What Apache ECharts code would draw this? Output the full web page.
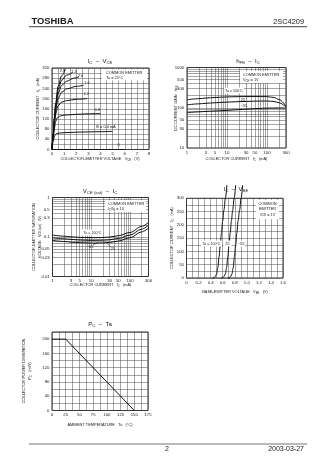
<!DOCTYPE html>
<html>
<head>
<meta charset="utf-8">
<script src="https://cdn.jsdelivr.net/npm/echarts@6/dist/echarts.min.js"></script>
<style>
  html, body { margin: 0; padding: 0; background: #fff; }
  #page { width: 336px; height: 475px; }
</style>
</head>
<body>
<div id="page"></div>
<script>
// ---------- IC – VCE (Ta = 25 °C), one curve per base current [VCE (V), IC (mA)] ----------
const ibLabels = ['0', '0.4', '0.8', '1.2', '1.6', '2.0', '2.4', '2.8'];
const icVceIb0  = [[0, 0], [6, 0]];
const icVceIb04 = [[0, 0], [0.1, 32], [0.2, 52], [0.3, 60], [0.5, 64], [1, 66], [2, 68], [3, 69], [4, 70], [5, 71]];
const icVceIb08 = [[0, 0], [0.1, 45], [0.2, 85], [0.3, 110], [0.45, 126], [0.7, 132], [1, 135], [2, 138], [3, 140], [4, 141]];
const icVceIb12 = [[0, 0], [0.1, 52], [0.2, 100], [0.3, 140], [0.5, 172], [0.8, 186], [1.2, 192], [2, 197], [2.9, 200]];
const icVceIb16 = [[0, 0], [0.1, 56], [0.2, 110], [0.3, 155], [0.5, 200], [0.8, 225], [1.2, 238], [2, 248], [2.6, 252]];
const icVceIb20 = [[0, 0], [0.1, 58], [0.2, 116], [0.3, 166], [0.5, 220], [0.8, 252], [1.2, 268], [1.8, 280], [2.2, 285]];
const icVceIb24 = [[0, 0], [0.1, 60], [0.2, 122], [0.3, 175], [0.5, 236], [0.8, 272], [1.2, 292], [1.7, 302]];
const icVceIb28 = [[0, 0], [0.1, 62], [0.2, 126], [0.3, 182], [0.5, 248], [0.8, 290], [1.1, 315]];

// ---------- hFE – IC (VCE = 1 V) [IC (mA), hFE] ----------
const hfeTa100 = [[1, 158], [2, 168], [3, 174], [5, 180], [10, 186], [20, 189], [50, 190], [100, 189], [150, 180], [200, 160], [300, 108]];
const hfeTa25  = [[1, 118], [2, 125], [3, 129], [5, 133], [10, 138], [20, 142], [50, 146], [100, 147], [150, 143], [200, 133], [300, 104]];
const hfeTaM55 = [[1, 75], [2, 79], [3, 81], [5, 83], [10, 86], [20, 90], [50, 95], [100, 98], [200, 99], [300, 98]];

// ---------- VCE(sat) – IC (IC/IB = 10) [IC (mA), VCE(sat) (V)] ----------
const vsatTa100 = [[1, 0.112], [2, 0.105], [3, 0.101], [5, 0.098], [10, 0.096], [20, 0.097], [30, 0.1], [50, 0.108], [100, 0.13], [200, 0.185], [300, 0.235]];
const vsatTa25  = [[1, 0.096], [2, 0.09], [3, 0.087], [5, 0.084], [10, 0.082], [20, 0.083], [30, 0.085], [50, 0.092], [100, 0.112], [200, 0.158], [300, 0.2]];
const vsatTaM55 = [[1, 0.082], [2, 0.077], [3, 0.074], [5, 0.072], [10, 0.07], [20, 0.071], [30, 0.073], [50, 0.079], [100, 0.096], [200, 0.135], [300, 0.168]];

// ---------- IC – VBE (VCE = 1 V) [VBE (V), IC (mA)]; the traces run on past the 300 mA frame ----------
const vbeTa100 = [[0.43, 0], [0.46, 2], [0.48, 6], [0.50, 16], [0.52, 40], [0.54, 80], [0.56, 125], [0.58, 170], [0.60, 215], [0.62, 255], [0.645, 300], [0.67, 350]];
const vbeTa25  = [[0.575, 0], [0.605, 2], [0.625, 6], [0.645, 16], [0.665, 40], [0.685, 80], [0.705, 125], [0.725, 170], [0.745, 215], [0.765, 255], [0.79, 300], [0.815, 350]];
const vbeTaM55 = [[0.685, 0], [0.715, 2], [0.735, 6], [0.755, 16], [0.775, 40], [0.795, 80], [0.815, 125], [0.835, 170], [0.855, 215], [0.88, 255], [0.905, 300], [0.93, 350]];

// ---------- PC – Ta [Ta (°C), PC (mW)] ----------
const pcTa = [[0, 200], [25, 200], [150, 0]];

// ---------- log-axis grid lines and their labels ----------
const icLogGrid   = [1, 2, 3, 4, 5, 6, 7, 8, 9, 10, 20, 30, 40, 50, 60, 70, 80, 90, 100, 200, 300];
const icLogLabels = [1, 3, 5, 10, 30, 50, 100, 300];
const hfeLogGrid   = [10, 20, 30, 40, 50, 60, 70, 80, 90, 100, 200, 300, 400, 500, 600, 700, 800, 900, 1000];
const hfeLogLabels = [10, 30, 50, 100, 300, 500, 1000];
const vsatLogGrid   = [0.01, 0.02, 0.03, 0.04, 0.05, 0.06, 0.07, 0.08, 0.09, 0.1, 0.2, 0.3, 0.4, 0.5, 0.6, 0.7, 0.8, 0.9, 1];
const vsatLogLabels = [0.01, 0.03, 0.05, 0.1, 0.3, 0.5, 1];

const FONT = '"Liberation Sans", Arial, sans-serif';
const INK = '#1a1a1a';
const RULE = '#4a4a4a';
const TICK_FS = 4.3;

const chart = echarts.init(document.getElementById('page'), null, { renderer: 'canvas' });

const gridBox = (left, top, width, height) => ({
  left, top, width, height, show: true, containLabel: false,
  borderColor: '#111', borderWidth: 0.9, backgroundColor: 'transparent'
});

const splitStyle = { show: true, lineStyle: { color: RULE, width: 0.5 } };

function linAxis(gridIndex, min, max, interval, labelStep, fmt) {
  return {
    type: 'value', gridIndex, min, max, interval,
    axisLine: { show: false }, axisTick: { show: false },
    splitLine: splitStyle,
    axisLabel: {
      fontSize: TICK_FS, color: INK, fontFamily: FONT, margin: 2.5,
      formatter: v => {
        const k = Math.round(v / labelStep * 1000) / 1000;
        return Number.isInteger(k) ? (fmt ? fmt(v) : String(v)) : '';
      }
    }
  };
}

function logAxis(gridIndex, min, max) {
  return {
    type: 'log', logBase: 10, gridIndex, min, max,
    axisLine: { show: false }, axisTick: { show: false },
    splitLine: { show: false }, axisLabel: { show: false }
  };
}

function curve(xi, data, extra) {
  return Object.assign({
    type: 'line', xAxisIndex: xi, yAxisIndex: xi, data,
    showSymbol: false, symbol: 'none', smooth: 0.35, smoothMonotone: 'x',
    silent: true, animation: false, z: 5,
    lineStyle: { color: '#111', width: 1 }
  }, extra || {});
}

// grid of a log–log panel: every rule is a segment in data space
function logRules(gi, xVals, xExt, yVals, yExt) {
  const data = [];
  xVals.forEach(v => data.push({ coords: [[v, yExt[0]], [v, yExt[1]]] }));
  yVals.forEach(v => data.push({ coords: [[xExt[0], v], [xExt[1], v]] }));
  return {
    type: 'lines', coordinateSystem: 'cartesian2d', xAxisIndex: gi, yAxisIndex: gi,
    polyline: false, silent: true, animation: false, z: 1,
    lineStyle: { color: RULE, width: 0.5, opacity: 1, curveness: 0 },
    data
  };
}

// tick labels of a log axis, anchored to the axis values
function logLabels(gi, vals, axis, at) {
  return {
    type: 'scatter', xAxisIndex: gi, yAxisIndex: gi, silent: true, animation: false,
    clip: false, symbol: 'rect', symbolSize: 0.5,
    itemStyle: { color: 'rgba(255,255,255,0)', opacity: 1 },
    data: vals.map(v => (axis === 'x' ? [v, at] : [at, v])),
    label: {
      show: true, position: axis === 'x' ? 'bottom' : 'left', distance: 2.5,
      fontSize: TICK_FS, color: INK, fontFamily: FONT, opacity: 1,
      formatter: p => String(axis === 'x' ? p.value[0] : p.value[1])
    },
    labelLayout: { hideOverlap: false }
  };
}

// ---------- text helpers ----------
function txt(x, y, text, size, o) {
  o = o || {};
  return {
    type: 'text', x, y, rotation: o.rot || 0, silent: true, z: 100,
    style: {
      text, fill: INK, fontSize: size, fontFamily: FONT,
      fontWeight: o.bold ? 'bold' : 'normal',
      align: o.align || 'center', verticalAlign: o.va || 'middle',
      lineHeight: o.lh || size * 1.25,
      rich: {
        s: { fontSize: size * 0.72, fontFamily: FONT, fill: INK, verticalAlign: 'bottom', lineHeight: size * 1.25 }
      }
    }
  };
}
function box(x, y, w, h) {
  return { type: 'rect', silent: true, z: 90, shape: { x, y, width: w, height: h }, style: { fill: '#fff' } };
}
function seg(x1, y1, x2, y2, w, c) {
  return { type: 'line', silent: true, z: 95, shape: { x1, y1, x2, y2 }, style: { stroke: c || '#111', lineWidth: w || 0.6 } };
}

const grids = [
  gridBox(52, 68, 97, 81.5),         // IC – VCE
  gridBox(187, 67.5, 99, 80.5),      // hFE – IC
  gridBox(52.5, 197.5, 96, 79),      // VCE(sat) – IC
  gridBox(186.5, 198.3, 96.5, 79.7), // IC – VBE
  gridBox(52, 332, 96, 78.5)         // PC – Ta
];

const xAxes = [
  linAxis(0, 0, 8, 0.5, 1),
  logAxis(1, 1, 300),
  logAxis(2, 1, 300),
  linAxis(3, 0, 1.6, 0.1, 0.2, v => (v === 0 ? '0' : v.toFixed(1))),
  linAxis(4, 0, 175, 12.5, 25)
];
const yAxes = [
  linAxis(0, 0, 320, 20, 40),
  logAxis(1, 10, 1000),
  logAxis(2, 0.01, 1),
  linAxis(3, 0, 300, 25, 50),
  linAxis(4, 0, 220, 20, 40)
];

const series = [
  curve(0, icVceIb0), curve(0, icVceIb04), curve(0, icVceIb08), curve(0, icVceIb12),
  curve(0, icVceIb16), curve(0, icVceIb20), curve(0, icVceIb24), curve(0, icVceIb28),

  logRules(1, icLogGrid, [1, 300], hfeLogGrid, [10, 1000]),
  logLabels(1, icLogLabels, 'x', 10), logLabels(1, hfeLogLabels, 'y', 1),
  curve(1, hfeTa100), curve(1, hfeTa25), curve(1, hfeTaM55),

  logRules(2, icLogGrid, [1, 300], vsatLogGrid, [0.01, 1]),
  logLabels(2, icLogLabels, 'x', 0.01), logLabels(2, vsatLogLabels, 'y', 1),
  curve(2, vsatTa100), curve(2, vsatTa25), curve(2, vsatTaM55),

  curve(3, vbeTa100, { clip: false }), curve(3, vbeTa25, { clip: false }), curve(3, vbeTaM55, { clip: false }),

  curve(4, pcTa, { smooth: false })
];

const graphic = [
  // page header
  txt(31.5, 21.8, 'TOSHIBA', 9.4, { bold: true, align: 'left' }),
  txt(304, 21.8, '2SC4209', 7.4, { align: 'right' }),
  seg(29, 26.6, 307, 26.6, 1.3, '#666'),

  // ---- IC – VCE ----
  txt(100, 61.5, 'I{s|C}  –  V{s|CE}', 6),
  box(102, 69.5, 45, 11),
  txt(106, 72.5, 'COMMON EMITTER', 3.9, { align: 'left' }),
  txt(106, 77.5, 'Ta = 25°C', 3.9, { align: 'left' }),
  txt(62.5, 71, '2.8', 3.9), txt(74, 72, '2.4', 3.9), txt(80.5, 76, '2.0', 3.9),
  txt(87, 83, '1.6', 3.9), txt(86.5, 94, '1.2', 3.9), txt(97.5, 109.5, '0.8', 3.9),
  txt(96, 126.5, 'I{s|B} = 0.4 mA', 3.9, { align: 'left' }),
  txt(118.5, 145, '0', 3.9),
  txt(100, 159, 'COLLECTOR-EMITTER VOLTAGE   V{s|CE}   (V)', 3.9),
  txt(38, 108.5, 'COLLECTOR CURRENT   I{s|C}   (mA)', 3.9, { rot: Math.PI / 2 }),

  // ---- hFE – IC ----
  txt(248, 61.5, 'h{s|FE}  –  I{s|C}', 6),
  box(240, 71, 43, 12),
  txt(243, 74.5, 'COMMON EMITTER', 3.9, { align: 'left' }),
  txt(243, 80, 'V{s|CE} = 1V', 3.9, { align: 'left' }),
  box(224, 87.5, 20, 6),
  txt(234, 90.5, 'Ta = 100°C', 3.6),
  txt(243, 100, '25', 3.9), txt(244, 105.5, '−55', 3.9),
  txt(236.5, 159, 'COLLECTOR CURRENT   I{s|C}   (mA)', 3.9),
  txt(176, 108, 'DC CURRENT GAIN   h{s|FE}', 3.9, { rot: Math.PI / 2 }),

  // ---- VCE(sat) – IC ----
  txt(100, 191, 'V{s|CE (sat)}  –  I{s|C}', 6),
  box(105, 200, 41, 12),
  txt(108, 203.5, 'COMMON EMITTER', 3.9, { align: 'left' }),
  txt(108, 209, 'I{s|C}/I{s|B} = 10', 3.9, { align: 'left' }),
  box(82, 229.5, 21, 6),
  txt(92.5, 232.5, 'Ta = 100°C', 3.6),
  txt(90, 247, '−55', 3.9), txt(113, 249, '25', 3.9),
  seg(93, 245, 98, 242.5, 0.5), seg(111, 247, 106, 242.5, 0.5),
  txt(100.5, 285, 'COLLECTOR CURRENT   I{s|C}   (mA)', 3.9),
  txt(34, 237, 'COLLECTOR-EMITTER SATURATION', 3.9, { rot: Math.PI / 2 }),
  txt(39.5, 237, 'VOLTAGE   V{s|CE (sat)}   (V)', 3.9, { rot: Math.PI / 2 }),

  // ---- IC – VBE ----
  txt(236, 189, 'I{s|C}  –  V{s|BE}', 6),
  box(256, 200, 23, 19),
  txt(267.5, 204, 'COMMON', 3.9), txt(267.5, 209, 'EMITTER', 3.9),
  txt(267.5, 214.5, 'V{s|CE} = 1V', 3.9),
  box(201, 240.5, 21, 6), txt(211.5, 243.5, 'Ta = 100°C', 3.6),
  box(223.5, 240.5, 8, 6), txt(227.5, 243.5, '25', 3.9),
  box(237, 240.5, 8, 6), txt(241, 243.5, '−55', 3.9),
  txt(235, 292, 'BASE-EMITTER VOLTAGE   V{s|BE}   (V)', 3.9),
  txt(172, 238, 'COLLECTOR CURRENT   I{s|C}   (mA)', 3.9, { rot: Math.PI / 2 }),

  // ---- PC – Ta ----
  txt(100, 324, 'P{s|C}  –  Ta', 6),
  txt(100, 425, 'AMBIENT TEMPERATURE   Ta   (°C)', 3.9),
  txt(24, 371, 'COLLECTOR POWER DISSIPATION', 3.9, { rot: Math.PI / 2 }),
  txt(30, 371, 'P{s|C}   (mW)', 3.9, { rot: Math.PI / 2 }),

  // page footer
  seg(29, 444, 307, 444, 1.2, '#777'),
  txt(167, 449.5, '2', 7),
  txt(304, 449.5, '2003-03-27', 7, { align: 'right' })
];

chart.setOption({
  animation: false,
  backgroundColor: '#fff',
  textStyle: { fontFamily: FONT },
  grid: grids,
  xAxis: xAxes,
  yAxis: yAxes,
  series,
  graphic
});
</script>
</body>
</html>
